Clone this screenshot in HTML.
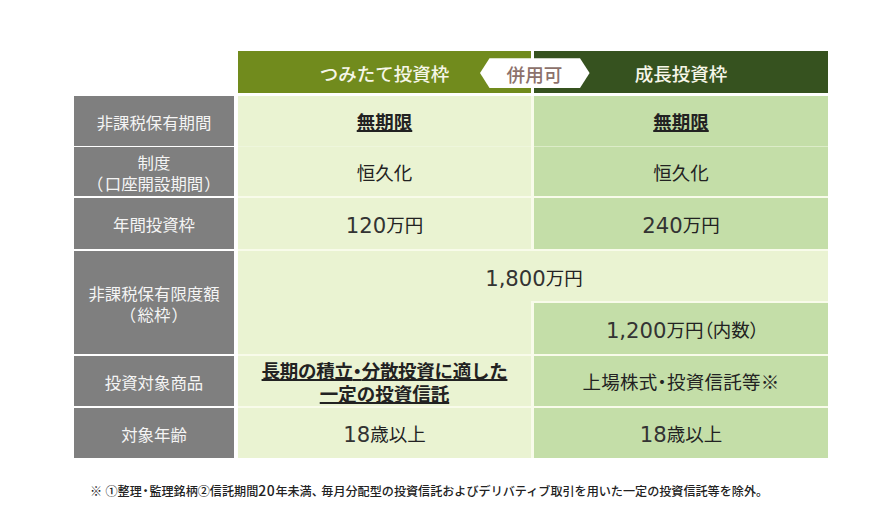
<!DOCTYPE html>
<html lang="ja">
<head>
<meta charset="utf-8">
<style>
html,body{margin:0;padding:0;background:#fff;}
body{width:870px;height:517px;position:relative;overflow:hidden;
  font-family:"Liberation Sans","Noto Sans CJK JP",sans-serif;color:#222;}
.b{position:absolute;box-sizing:border-box;display:flex;align-items:center;justify-content:center;text-align:center;}
.g{background:#7f7f7f;color:#f4f4f4;font-size:16.4px;line-height:21px;padding-top:4px;}
.c1{background:#eaf3d2;}
.c2{background:#c4dea8;}
.d{font-size:18.5px;color:#222;line-height:24px;padding-top:4px;}
.w{display:block;}
.hd{font-size:18.5px;color:#f6f6e8;padding-top:2px;font-weight:500;}
.u{font-weight:bold;text-decoration:underline;text-decoration-thickness:2px;text-underline-offset:1px;}
.n{font-family:"DejaVu Sans",sans-serif;font-weight:400;font-size:21.2px;letter-spacing:0px;color:#333;line-height:0;vertical-align:-1px;}
.p{font-feature-settings:"palt";}
.lp{position:relative;left:-1.5px;}
.rp{position:relative;left:1px;}
.n2{font-family:"Noto Sans CJK JP",sans-serif;font-size:14px;letter-spacing:0.6px;}
.note{font-weight:500;position:absolute;left:90px;top:482px;line-height:16px;font-size:12.1px;color:#222;white-space:nowrap;}
</style>
</head>
<body>
<!-- headers -->
<div class="b hd" style="left:238px;top:51px;width:293px;height:42px;background:#718b1d;"><span class="w">つみたて投資枠</span></div>
<div class="b hd" style="left:534px;top:51px;width:294px;height:42px;background:#36521f;"><span class="w">成長投資枠</span></div>
<svg style="position:absolute;left:0;top:0" width="870" height="517">
  <polygon points="480,73 489.5,58.2 580,58.2 589.6,73 580,88 489.5,88" fill="#fff"/>
  <text x="534.5" y="81.5" text-anchor="middle" font-size="18.6" font-weight="500" fill="#8c716b" font-family="Liberation Sans, Noto Sans CJK JP, sans-serif">併用可</text>
</svg>

<!-- label column -->
<div class="b g" style="left:74px;top:96px;width:160px;height:50px;"><span class="w">非課税保有期間</span></div>
<div class="b g" style="left:74px;top:147px;width:160px;height:49px;"><span class="w">制度<br><span class="lp">（</span>口座開設期間<span class="rp">）</span></span></div>
<div class="b g" style="left:74px;top:198px;width:160px;height:51px;"><span class="w">年間投資枠</span></div>
<div class="b g" style="left:74px;top:251px;width:160px;height:103px;"><span class="w">非課税保有限度額<br><span class="lp">（</span>総枠<span class="rp">）</span></span></div>
<div class="b g" style="left:74px;top:356px;width:160px;height:50px;"><span class="w">投資対象商品</span></div>
<div class="b g" style="left:74px;top:408px;width:160px;height:50px;"><span class="w">対象年齢</span></div>

<!-- data bg (separator colour) -->
<div class="b" style="left:238px;top:96px;width:590px;height:362px;background:#f8fbea;"></div>
<!-- col1 -->
<div class="b c1 d" style="left:238px;top:96px;width:293px;height:50px;"><span class="w"><span class="u">無期限</span></span></div>
<div class="b c1 d" style="left:238px;top:147px;width:293px;height:49px;"><span class="w">恒久化</span></div>
<div class="b c1 d" style="left:238px;top:198px;width:293px;height:51px;"><span class="w"><span class="n">120</span>万円</span></div>
<div class="b c1" style="left:238px;top:251px;width:590px;height:50px;"></div>
<div class="b c1" style="left:238px;top:301px;width:293px;height:53px;"></div>
<div class="b c1 d" style="left:238px;top:356px;width:293px;height:50px;line-height:23.5px;padding-top:4px;"><span class="w"><span class="u"><span style="letter-spacing:-0.28px">長期の積立<span class="p">・</span>分散投資に適した</span><br>一定の投資信託</span></span></div>
<div class="b c1 d" style="left:238px;top:408px;width:293px;height:50px;"><span class="w"><span class="n">18</span>歳以上</span></div>

<!-- col2 -->
<div class="b c2 d" style="left:534px;top:96px;width:294px;height:50px;"><span class="w"><span class="u">無期限</span></span></div>
<div class="b c2 d" style="left:534px;top:147px;width:294px;height:49px;"><span class="w">恒久化</span></div>
<div class="b c2 d" style="left:534px;top:198px;width:294px;height:51px;"><span class="w"><span class="n">240</span>万円</span></div>
<div class="b c2 d" style="left:534px;top:303px;width:294px;height:51px;padding-left:3px;"><span class="w"><span class="n">1,200</span>万円<span class="p">（</span>内数<span class="p">）</span></span></div>
<div class="b c2 d" style="left:534px;top:356px;width:294px;height:50px;"><span class="w" style="letter-spacing:0.25px">上場株式<span class="p">・</span>投資信託等※</span></div>
<div class="b c2 d" style="left:534px;top:408px;width:294px;height:50px;"><span class="w"><span class="n">18</span>歳以上</span></div>

<div class="b d" style="left:238px;top:251px;width:590px;height:50px;padding-top:6px;padding-left:2px;"><span class="w"><span class="n">1,800</span>万円</span></div>

<div class="b" style="left:238px;top:146px;width:293px;height:1px;background:#eef6dc;"></div>
<div class="b" style="left:534px;top:146px;width:294px;height:1px;background:#dcecc8;"></div>
<div class="note">※ ①整理<span class="p" style="margin:0 0.8px">・</span>監理銘柄②信託期間<span class="n2">20</span>年未満<span style="margin-right:-2.5px">、</span>毎月分配型の投資信託およびデリバティブ取引を用いた一定の投資信託等を除外。</div>
</body>
</html>
